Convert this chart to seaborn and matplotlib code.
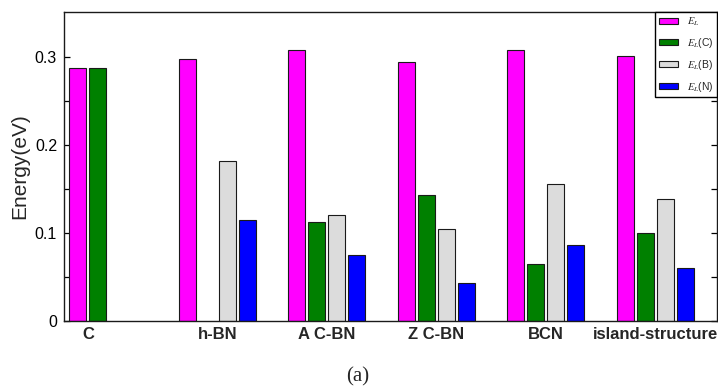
import matplotlib
matplotlib.use("Agg")
import matplotlib.pyplot as plt
import seaborn as sns
import pandas as pd
from matplotlib.ticker import FixedLocator, FuncFormatter

# Structures and localization energies (eV); None = not defined for that structure
structures = ["C", "h-BN", "A C-BN", "Z C-BN", "BCN", "island-structure"]
series = [r"$E_L$", r"$E_L$(C)", r"$E_L$(B)", r"$E_L$(N)"]
e_total = [0.287, 0.298, 0.308, 0.294, 0.308, 0.301]
e_carbon = [0.287, None, 0.112, 0.1435, 0.065, 0.100]
e_boron = [None, 0.182, 0.120, 0.1045, 0.156, 0.139]
e_nitrogen = [None, 0.115, 0.075, 0.0436, 0.0864, 0.060]
colors = ["#ff00ff", "#008000", "#dcdcdc", "#0000ff"]
yticks = [0, 0.1, 0.2, 0.3]
yminor = [0.05, 0.15, 0.25]

rows = []
for name, vals in zip(series, [e_total, e_carbon, e_boron, e_nitrogen]):
    for s, v in zip(structures, vals):
        if v is not None:
            rows.append({"structure": s, "series": name, "energy": v})
df = pd.DataFrame(rows)

sns.set_theme(style="ticks")
plt.rcParams["font.family"] = ["Liberation Sans", "DejaVu Sans"]
plt.rcParams["mathtext.fontset"] = "stix"

fig = plt.figure(figsize=(7.18, 3.90), dpi=100)
ax = fig.add_axes([64 / 718, 1 - 321 / 390, (717 - 64) / 718, (321 - 12) / 390])

group_width = 0.73
sns.barplot(data=df, x="structure", y="energy", hue="series",
            order=structures, hue_order=series, palette=colors, saturation=1,
            width=group_width, gap=0.15, edgecolor="#1a1a1a", linewidth=0.8,
            errorbar=None, ax=ax)

slot = group_width / len(series)
ax.set_xlim(-0.40, 5.563)
ax.set_ylim(0, 0.351)

# "C" has only two bars, so its label sits under those two
xtick_pos = [-slot] + list(range(1, len(structures)))
ax.xaxis.set_major_locator(FixedLocator(xtick_pos))
ax.set_xticklabels(structures, fontsize=12, fontweight="bold")
ax.tick_params(axis="x", length=0, pad=4)

ax.yaxis.set_major_locator(FixedLocator(yticks))
ax.yaxis.set_minor_locator(FixedLocator(yminor))
ax.yaxis.set_major_formatter(FuncFormatter(lambda v, p: "0" if v == 0 else f"{v:.1f}"))
ax.tick_params(axis="y", which="both", direction="in", right=True, left=True,
               length=4.5, width=0.9, labelsize=11.5, pad=5, colors="black")
ax.tick_params(axis="y", which="minor", length=4)

ax.set_xlabel("")
ax.set_ylabel("Energy(eV)", fontsize=15, labelpad=4)
for sp in ax.spines.values():
    sp.set_visible(True)
    sp.set_linewidth(1.0)
    sp.set_color("#1a1a1a")

sns.move_legend(ax, "upper right", bbox_to_anchor=(1, 1), borderaxespad=0,
                title=None, frameon=True, fancybox=False, fontsize=7.5,
                handlelength=1.9, handleheight=0.55, handletextpad=0.8,
                labelspacing=0.75, borderpad=0.35, edgecolor="black")
leg = ax.get_legend()
leg.get_frame().set_linewidth(1.0)
leg.get_frame().set_alpha(1)

fig.text(0.4986, 0.033, "(a)", ha="center", va="center", fontsize=15,
         family=["Liberation Serif", "DejaVu Serif"])

fig.savefig("out.png", dpi=100)
